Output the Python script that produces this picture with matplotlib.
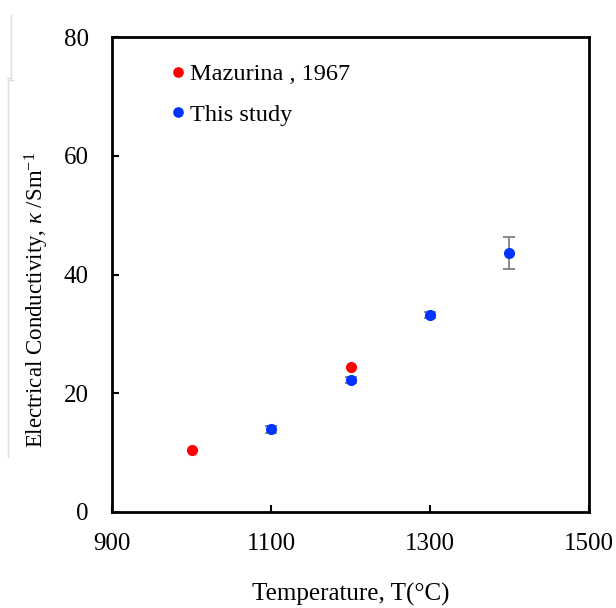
import matplotlib
matplotlib.use("Agg")
import matplotlib.pyplot as plt
from matplotlib.lines import Line2D

plt.rcParams['font.family'] = ['Liberation Serif', 'DejaVu Serif']
plt.rcParams['mathtext.fontset'] = 'custom'
plt.rcParams['mathtext.rm'] = 'Liberation Serif'
plt.rcParams['mathtext.it'] = 'Liberation Serif:italic'

# data
maz_T = [1000, 1200]
maz_k = [10.5, 24.5]
study_T = [1100, 1200, 1300, 1400]
study_k = [13.9, 22.3, 33.2, 43.7]
study_err = [0.6, 0.5, 0.5, 2.7]

xticks = [900, 1100, 1300, 1500]
yticks = [0, 20, 40, 60, 80]

fig = plt.figure(figsize=(6.16, 6.08), dpi=100)
ax = fig.add_axes([0.182, 0.158, 0.774, 0.781])

ax.errorbar(study_T, study_k, yerr=study_err, fmt='none', ecolor='#777777',
            elinewidth=1.2, capsize=4, capthick=1.2, zorder=2)
ax.plot(maz_T, maz_k, 'o', color='#ff0000', markersize=7, label='Mazurina , 1967', zorder=3)
ax.plot(study_T, study_k, 'o', color='#0033ff', markersize=7, label='This study', zorder=3)

ax.set_xlim(900, 1500)
ax.set_ylim(0, 80)
ax.set_xticks(xticks)
ax.set_yticks(yticks)
ax.tick_params(direction='in', length=5, width=1.5, labelsize=18, top=False, right=False)
ax.tick_params(axis='x', pad=15)
ax.tick_params(axis='y', pad=17)
for s in ax.spines.values():
    s.set_linewidth(2)

ax.set_xlabel('Temperature, T(\u00b0C)', fontsize=18, labelpad=20)
ax.set_ylabel(r'Electrical Conductivity, $\kappa$ /Sm$^{-1}$', fontsize=16.5)
ax.yaxis.set_label_coords(-0.129, 0.446)

ax.legend(loc='upper left', frameon=False, fontsize=17.5, handletextpad=0.2,
          handlelength=0.6, labelspacing=0.76, borderaxespad=0, markerscale=0.95,
          bbox_to_anchor=(0.103, 0.965))

# faint page edge lines at the left of the screenshot
W, H = 616, 608
def px(x, y):
    return x / W, 1 - y / H
for (x0, y0), (x1, y1) in [((11, 15), (11, 78)), ((11, 78), (7, 78)),
                           ((8, 80), (8, 457)), ((8, 80), (13, 80))]:
    a, b = px(x0, y0)
    c, d = px(x1, y1)
    fig.add_artist(Line2D([a, c], [b, d], color='#dddddd', lw=1))

fig.savefig('out.png', dpi=100)
